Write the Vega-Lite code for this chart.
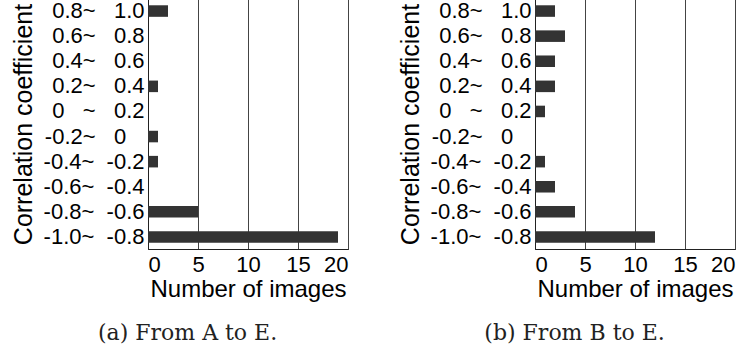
{
  "$schema": "https://vega.github.io/schema/vega-lite/v6.json",
  "padding": {"left": 10, "top": -2, "right": 4, "bottom": 0},
  "background": "white",
  "spacing": 48,
  "config": {
    "font": "Liberation Sans",
    "view": {"stroke": "#333", "strokeWidth": 1},
    "axis": {"domainColor": "#222", "gridColor": "#444", "gridWidth": 1, "labelColor": "black", "titleColor": "black", "titleFontWeight": "normal", "labelFont": "Liberation Sans", "titleFont": "Liberation Sans"},
    "title": {"font": "DejaVu Serif", "fontSize": 22, "fontWeight": "normal", "orient": "bottom", "anchor": "middle", "frame": "bounds", "offset": 22, "dx": 8, "color": "#222"}
  },
  "datasets": {
    "a": [
      {"range": "0.8~\u00a0\u00a0\u00a01.0", "count": 2},
      {"range": "0.6~\u00a0\u00a0\u00a00.8", "count": 0},
      {"range": "0.4~\u00a0\u00a0\u00a00.6", "count": 0},
      {"range": "0.2~\u00a0\u00a0\u00a00.4", "count": 1},
      {"range": "0\u00a0\u00a0\u00a0~\u00a0\u00a0\u00a00.2", "count": 0},
      {"range": "-0.2~\u00a0\u00a0\u00a00\u00a0\u00a0\u00a0\u200b", "count": 1},
      {"range": "-0.4~\u00a0\u00a0-0.2", "count": 1},
      {"range": "-0.6~\u00a0\u00a0-0.4", "count": 0},
      {"range": "-0.8~\u00a0\u00a0-0.6", "count": 5},
      {"range": "-1.0~\u00a0\u00a0-0.8", "count": 19}
    ],
    "b": [
      {"range": "0.8~\u00a0\u00a0\u00a01.0", "count": 2},
      {"range": "0.6~\u00a0\u00a0\u00a00.8", "count": 3},
      {"range": "0.4~\u00a0\u00a0\u00a00.6", "count": 2},
      {"range": "0.2~\u00a0\u00a0\u00a00.4", "count": 2},
      {"range": "0\u00a0\u00a0\u00a0~\u00a0\u00a0\u00a00.2", "count": 1},
      {"range": "-0.2~\u00a0\u00a0\u00a00\u00a0\u00a0\u00a0\u200b", "count": 0},
      {"range": "-0.4~\u00a0\u00a0-0.2", "count": 1},
      {"range": "-0.6~\u00a0\u00a0-0.4", "count": 2},
      {"range": "-0.8~\u00a0\u00a0-0.6", "count": 4},
      {"range": "-1.0~\u00a0\u00a0-0.8", "count": 12}
    ]
  },
  "hconcat": [
    {
      "title": {"text": "(a) From A to E."},
      "width": 200,
      "height": 250,
      "data": {"name": "a"},
      "mark": {"type": "bar", "color": "#333"},
      "encoding": {
        "y": {"field": "range", "type": "nominal", "sort": null,
          "scale": {"paddingInner": 0.54, "paddingOuter": 0.25},
          "axis": {"title": "Correlation coefficient", "ticks": false, "labelFontSize": 22, "labelPadding": 4, "titleFontSize": 25, "titlePadding": 7, "grid": false}},
        "x": {"field": "count", "type": "quantitative", "scale": {"domain": [0, 20]},
          "axis": {"values": [0, 5, 10, 15, 20], "title": "Number of images", "ticks": false, "labelFontSize": 22, "labelPadding": 5, "labelDx": -4, "titleFontSize": 24, "titlePadding": 2, "grid": true}}
      }
    },
    {
      "title": {"text": "(b) From B to E."},
      "width": 200,
      "height": 250,
      "data": {"name": "b"},
      "mark": {"type": "bar", "color": "#333"},
      "encoding": {
        "y": {"field": "range", "type": "nominal", "sort": null,
          "scale": {"paddingInner": 0.54, "paddingOuter": 0.25},
          "axis": {"title": "Correlation coefficient", "ticks": false, "labelFontSize": 22, "labelPadding": 4, "titleFontSize": 25, "titlePadding": 7, "grid": false}},
        "x": {"field": "count", "type": "quantitative", "scale": {"domain": [0, 20]},
          "axis": {"values": [0, 5, 10, 15, 20], "title": "Number of images", "ticks": false, "labelFontSize": 22, "labelPadding": 5, "labelDx": -4, "titleFontSize": 24, "titlePadding": 2, "grid": true}}
      }
    }
  ]
}
